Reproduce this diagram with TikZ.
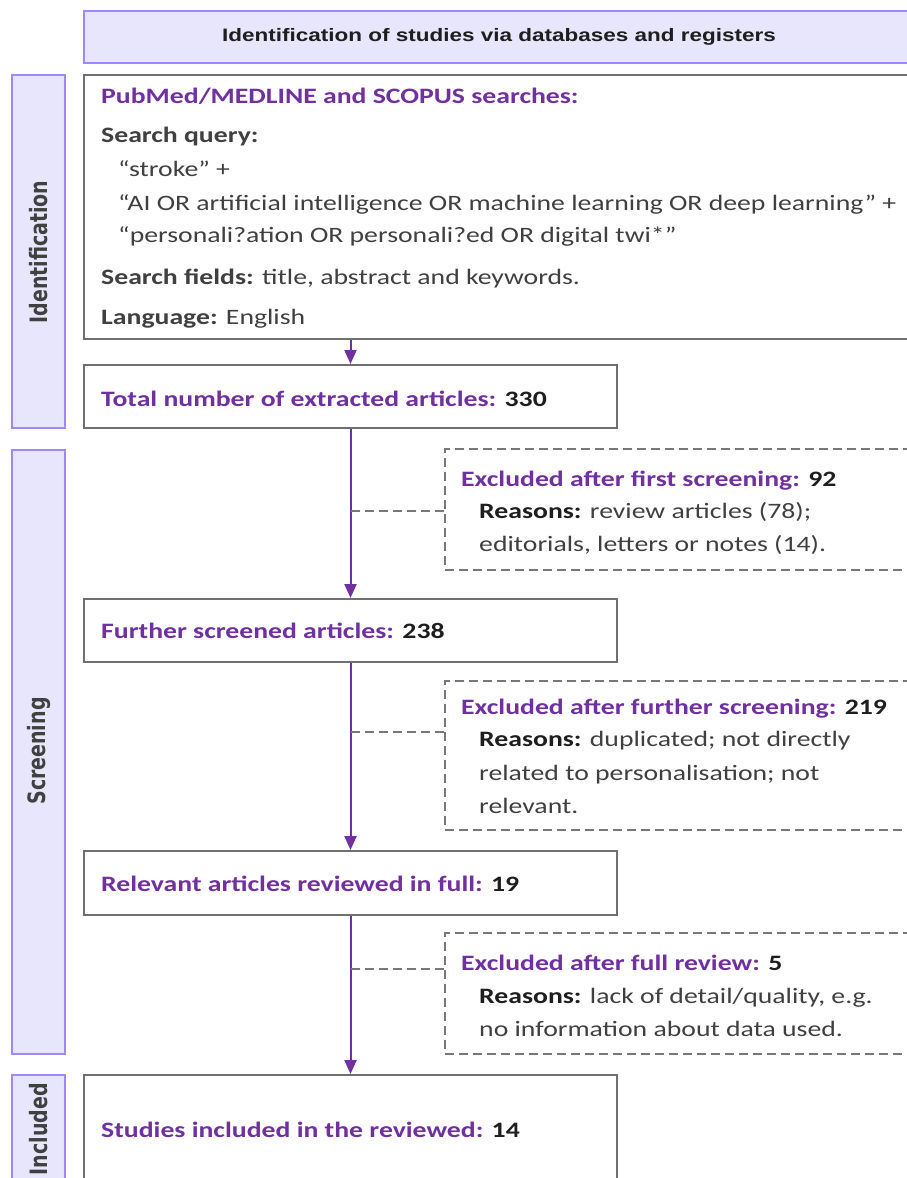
\documentclass[tikz,border=0pt]{standalone}
\usepackage{fontspec}
\setmainfont{Carlito}[FakeStretch=1.26]
\newfontfamily\sidefont{DejaVu Sans}
\newfontfamily\headfont{Liberation Sans}[FakeStretch=1.25]
\usetikzlibrary{arrows.meta}
\definecolor{pur}{RGB}{112,48,160}
\definecolor{txt}{RGB}{64,64,64}
\definecolor{dark}{RGB}{30,30,30}
\definecolor{lav}{RGB}{232,230,253}
\definecolor{lavb}{RGB}{160,136,252}
\definecolor{boxg}{RGB}{112,112,112}
\definecolor{dashg}{RGB}{120,120,120}
\newcommand{\hd}[1]{\textcolor{pur}{\bfseries #1}}
\newcommand{\nb}[1]{\textcolor{dark}{\bfseries #1}}
\newcommand{\lb}[1]{\textcolor{dark}{\bfseries #1}}
\newcommand{\sidetxt}[1]{\scalebox{1}[1.26]{#1}}
\begin{document}
\begin{tikzpicture}[x=1pt,y=-1pt,
  box/.style={draw=boxg, line width=2pt, fill=white, inner sep=0},
  exbox/.style={draw=dashg, line width=1.5pt, dash pattern=on 9pt off 5pt, inner sep=0},
  side/.style={draw=lavb, line width=2pt, fill=lav, inner sep=0},
  arr/.style={draw=pur, line width=2pt, -{Triangle[length=14pt,width=12pt]}},
  dl/.style={draw=dashg, line width=1.5pt, dash pattern=on 9pt off 5pt},
  tl/.style={anchor=base west, inner sep=0, font=\fontsize{22}{26}\selectfont, text=txt},
  sidel/.style={rotate=90, inner sep=0, font=\sidefont\bfseries\fontsize{19}{22}\selectfont, text=txt},
]
\useasboundingbox (0,0) rectangle (907,1178);
\clip (0,0) rectangle (907,1178);

% header
\node[side, minimum width=856pt, minimum height=52pt] (head) at (512,37) {};
\node[inner sep=0, font=\headfont\bfseries\fontsize{18}{20}\selectfont, text=dark] (headt) at (499,37) {Identification of studies via databases and registers};

% side bars
\node[side, minimum width=53pt, minimum height=353pt] (sideI) at (38.5,251.5) {};
\node[side, minimum width=53pt, minimum height=604pt] (sideS) at (38.5,752) {};
\node[side, minimum width=53pt, minimum height=125pt] (sideN) at (38.5,1137.5) {};
\node[sidel] (sideIt) at (39,252) {\sidetxt{Identification}};
\node[sidel] (sideSt) at (39,751) {\sidetxt{Screening}};
\node[sidel, anchor=east] (sideNt) at (39,1083) {\sidetxt{Included}};

% main boxes
\node[box, minimum width=856pt, minimum height=264pt] (big) at (512,207) {};
\node[box, minimum width=533pt, minimum height=63pt] (tot) at (350.5,396.5) {};
\node[box, minimum width=533pt, minimum height=63pt] (fur) at (350.5,630.5) {};
\node[box, minimum width=533pt, minimum height=64pt] (rel) at (350.5,883) {};
\node[box, minimum width=533pt, minimum height=125pt] (inc) at (350.5,1137.5) {};

% excluded boxes
\node[exbox, minimum width=495pt, minimum height=121pt] (ex1) at (692.5,509.5) {};
\node[exbox, minimum width=495pt, minimum height=149pt] (ex2) at (692.5,755.5) {};
\node[exbox, minimum width=495pt, minimum height=121pt] (ex3) at (692.5,993.5) {};

% text in big box
\node[tl] (b1) at (101,103) {\hd{PubMed/MEDLINE and SCOPUS searches:}};
\node[tl] (b2) at (101,142) {\bfseries Search query:};
\node[tl] (b3) at (118,176) {“stroke” +};
\node[tl] (b4) at (118,210) {“AI OR artificial intelligence OR machine learning OR deep learning” +};
\node[tl] (b5) at (118,242) {“personali?ation OR personali?ed OR digital twi*”};
\node[tl] (b6) at (101,284) {\textbf{Search fields:} title, abstract and keywords.};
\node[tl] (b7) at (101,324) {\textbf{Language:} English};

\node[tl] (tott) at (101,406) {\hd{Total number of extracted articles:} \nb{330}};
\node[tl] (furt) at (101,638) {\hd{Further screened articles:} \nb{238}};
\node[tl] (relt) at (101,891) {\hd{Relevant articles reviewed in full:} \nb{19}};
\node[tl] (inct) at (101,1137) {\hd{Studies included in the reviewed:} \nb{14}};

% excluded text
\node[tl] (e1a) at (461,486) {\hd{Excluded after first screening:} \nb{92}};
\node[tl] (e1b) at (479,518) {\lb{Reasons:} review articles (78);};
\node[tl] (e1c) at (479,551) {editorials, letters or notes (14).};
\node[tl] (e2a) at (461,714) {\hd{Excluded after further screening:} \nb{219}};
\node[tl] (e2b) at (479,746) {\lb{Reasons:} duplicated; not directly};
\node[tl] (e2c) at (479,780) {related to personalisation; not};
\node[tl] (e2d) at (479,813) {relevant.};
\node[tl] (e3a) at (461,970) {\hd{Excluded after full review:} \nb{5}};
\node[tl] (e3b) at (479,1003) {\lb{Reasons:} lack of detail/quality, e.g.};
\node[tl] (e3c) at (479,1036) {no information about data used.};

% arrows
\draw[arr] (big.south -| tot.north) -- (tot.north);
\draw[arr] (tot.south) -- (fur.north);
\draw[arr] (fur.south) -- (rel.north);
\draw[arr] (rel.south) -- (inc.north);

% dashed connectors
\coordinate (c1) at (445,511);
\coordinate (c2) at (445,732);
\coordinate (c3) at (445,969);
\draw[dl] (c1 -| tot.south) -- (c1);
\draw[dl] (c2 -| fur.south) -- (c2);
\draw[dl] (c3 -| rel.south) -- (c3);
\end{tikzpicture}
\end{document}
